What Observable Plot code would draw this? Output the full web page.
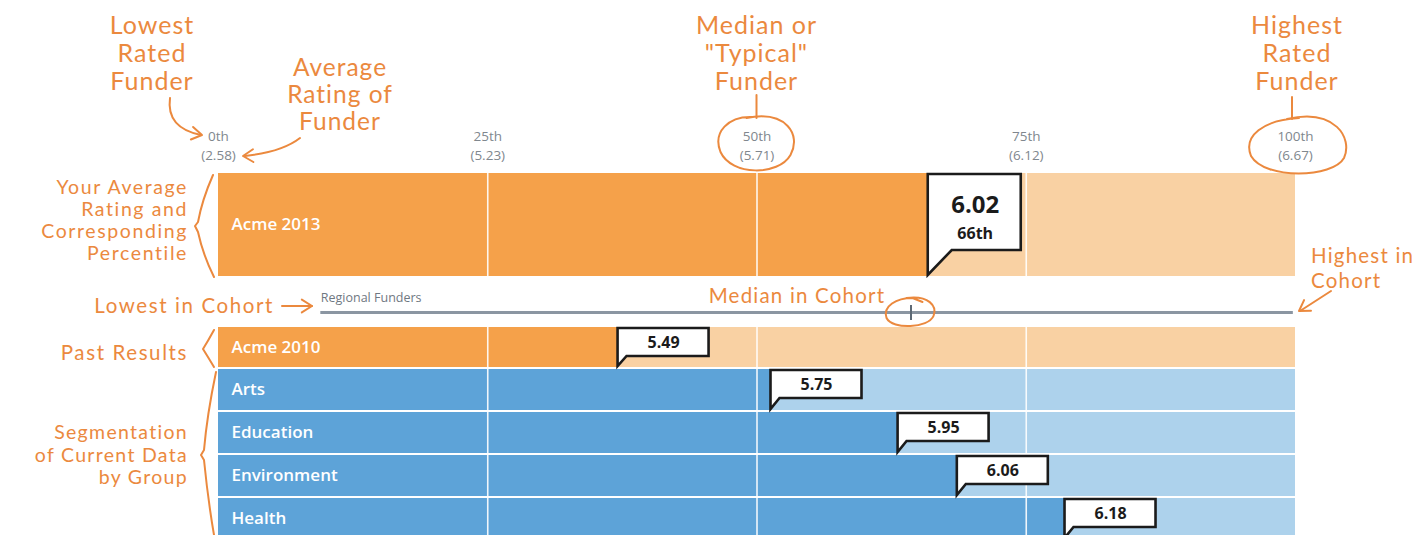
<!DOCTYPE html>
<html>
<head>
<meta charset="utf-8">
<script src="https://cdn.jsdelivr.net/npm/d3@7"></script>
<script src="https://cdn.jsdelivr.net/npm/@observablehq/plot@0.6"></script>
<style>
  html, body { margin: 0; padding: 0; background: #ffffff; }
  #chart svg { display: block; }
</style>
</head>
<body>
<div id="chart"></div>
<script>
// ---------------- DATA ----------------
const categories  = ["Acme 2013", "Acme 2010", "Arts", "Education", "Environment", "Health"];
const ratings     = [6.02, 5.49, 5.75, 5.95, 6.06, 6.18];
const percentiles = [65.9, 37.1, 51.3, 63.1, 68.6, 78.6];
const groups      = ["current", "past", "segment", "segment", "segment", "segment"];

const tickPercentiles = [0, 25, 50, 75, 100];
const tickLabels      = ["0th", "25th", "50th", "75th", "100th"];
const tickValues      = ["(2.58)", "(5.23)", "(5.71)", "(6.12)", "(6.67)"];

const cohortName   = "Regional Funders";
const cohortRange  = [9.5, 99.8];   // percentile of lowest / highest in cohort
const cohortMedian = 64.3;          // percentile of cohort median

// ---------------- LAYOUT / STYLE ----------------
const W = 1412, H = 535;
const plotLeft = 218, plotRight = 1295;
const rowSpans = {
  "Acme 2013":   [173, 276],
  "Acme 2010":   [327, 367],
  "Arts":        [369, 410],
  "Education":   [412, 453],
  "Environment": [455, 496],
  "Health":      [498, 539]
};
const tickLabelY = [136, 155];
const cohortY = 312, cohortLabelY = 297;
const palette = {
  current: ["#F5A14A", "#F9D1A3"],
  past:    ["#F5A14A", "#F9D1A3"],
  segment: ["#5DA3D8", "#ADD2EC"]
};
const ink = "#EB893E";
const hand = "'Lato', 'Open Sans', sans-serif";

const rows = categories.map((name, i) => ({
  name, rating: ratings[i], pct: percentiles[i], group: groups[i],
  y1: rowSpans[name][0], y2: rowSpans[name][1]
}));
const gridData = rows.flatMap(r => [25, 50, 75].map(t => ({t, y1: r.y1, y2: r.y2})));

// ---------------- CUSTOM MARKS ----------------
function calloutMark(index, scales) {
  const X = scales.x;
  const g = d3.create("svg:g")
    .attr("fill", "white").attr("stroke", "#1b1b1b")
    .attr("stroke-width", 2.6).attr("stroke-linejoin", "miter");
  rows.forEach((r, i) => {
    const x0 = X(r.pct);
    let top, bottom, right, join, tip;
    if (i === 0) {
      top = r.y1 + 1; bottom = r.y1 + 77; right = x0 + 93; join = x0 + 24; tip = r.y2 - 1;
    } else {
      top = r.y1 + 1; bottom = r.y1 + 29; right = x0 + 91; join = x0 + 9; tip = r.y2 - 1;
    }
    g.append("path").attr("d",
      `M${x0},${tip} L${x0},${top} L${right},${top} L${right},${bottom} L${join},${bottom} Z`);
  });
  return g.node();
}

function arrowHead(tx, ty, angleDeg, len = 12, spread = 32) {
  const a = angleDeg * Math.PI / 180;
  const s = spread * Math.PI / 180;
  const p1 = [tx - len * Math.cos(a - s), ty - len * Math.sin(a - s)];
  const p2 = [tx - len * Math.cos(a + s), ty - len * Math.sin(a + s)];
  return `M${p1[0]},${p1[1]} L${tx},${ty} L${p2[0]},${p2[1]}`;
}

function annotationMark(index, scales) {
  const X = scales.x;
  const g = d3.create("svg:g").attr("fill", "none").attr("stroke", ink)
    .attr("stroke-width", 2).attr("stroke-linecap", "round").attr("stroke-linejoin", "round");
  const texts = [
    {lines: ["Lowest", "Rated", "Funder"], x: 152, y: 24, lh: 28, anchor: "middle", size: 25, ls: 1.0},
    {lines: ["Average", "Rating of", "Funder"], x: 340, y: 66, lh: 27, anchor: "middle", size: 24.5, ls: 1.0},
    {lines: ["Median or", "\"Typical\"", "Funder"], x: X(50), y: 24, lh: 28, anchor: "middle", size: 25, ls: 1.0},
    {lines: ["Highest", "Rated", "Funder"], x: X(100) + 2, y: 24, lh: 28, anchor: "middle", size: 25, ls: 1.0},
    {lines: ["Your Average", "Rating and", "Corresponding", "Percentile"], x: 188, y: 186, lh: 22, anchor: "end", size: 19.5, ls: 1.6},
    {lines: ["Lowest in Cohort"], x: 274, y: 305, lh: 22, anchor: "end", size: 20.5, ls: 1.6},
    {lines: ["Median in Cohort"], x: 797, y: 295, lh: 22, anchor: "middle", size: 20.5, ls: 1.2},
    {lines: ["Highest in", "Cohort"], x: 1311, y: 255, lh: 25, anchor: "start", size: 20.5, ls: 1.2},
    {lines: ["Past Results"], x: 188, y: 352, lh: 22, anchor: "end", size: 20.5, ls: 1.6},
    {lines: ["Segmentation", "of Current Data", "by Group"], x: 188, y: 431, lh: 22.5, anchor: "end", size: 19.5, ls: 1.3}
  ];
  const tg = g.append("g").attr("stroke", "none").attr("fill", ink).attr("font-family", hand);
  texts.forEach(t => {
    const el = tg.append("text").attr("text-anchor", t.anchor)
      .attr("font-size", t.size).attr("letter-spacing", t.ls).attr("dominant-baseline", "central");
    t.lines.forEach((ln, k) => el.append("tspan").attr("x", t.x).attr("y", t.y + k * t.lh).text(ln));
  });
  const paths = [
    // Lowest rated funder arrow
    "M170,98 Q166,128 201,135", arrowHead(202, 135, 10),
    // Average rating arrow
    "M300,138 Q282,152 245,156", arrowHead(243, 156, 178),
    // Median line + circle
    `M${X(50)},95 L${X(50)},118`,
    `M${X(50) - 10},118 C${X(50) + 30},110 ${X(50) + 45},135 ${X(50) + 34},155 C${X(50) + 22},176 ${X(50) - 25},176 ${X(50) - 36},152 C${X(50) - 44},132 ${X(50) - 28},116 ${X(50) - 4},117`,
    // Highest line + circle
    `M${X(100) - 3},97 L${X(100) - 3},119`,
    `M${X(100) - 8},119 C${X(100) + 40},108 ${X(100) + 58},138 ${X(100) + 49},158 C${X(100) + 38},178 ${X(100) - 30},180 ${X(100) - 44},156 C${X(100) - 52},136 ${X(100) - 32},120 ${X(100) + 4},118`,
    // Lowest in cohort arrow
    "M282,306 L312,306", arrowHead(312, 306, 0),
    // Median in cohort circle
    `M${X(cohortMedian) - 4},298 C${X(cohortMedian) + 18},295 ${X(cohortMedian) + 27},306 ${X(cohortMedian) + 23},316 C${X(cohortMedian) + 18},328 ${X(cohortMedian) - 18},330 ${X(cohortMedian) - 24},318 C${X(cohortMedian) - 28},306 ${X(cohortMedian) - 14},298 ${X(cohortMedian) + 2},298 L${X(cohortMedian) + 12},302`,
    // Highest in cohort arrow
    "M1331,291 L1300,311", arrowHead(1299, 311, 147),
    // Braces
    "M213,175 Q202,200 198,222 L195,226 L198,232 Q203,255 214,277",
    "M214,330 Q208,341 203,349 Q208,357 214,367",
    "M216,372 Q207,415 204,450 L201,455 L204,460 Q208,500 214,535"
  ];
  paths.forEach(d => g.append("path").attr("d", d));
  return g.node();
}

// ---------------- PLOT ----------------
const chart = Plot.plot({
  width: W, height: H,
  marginLeft: plotLeft, marginRight: W - plotRight, marginTop: 0, marginBottom: 0,
  x: {domain: [0, 100], axis: null},
  y: {domain: [0, H], range: [0, H], axis: null},
  color: {type: "identity"},
  style: {fontFamily: "'Open Sans', sans-serif", background: "white", overflow: "visible"},
  marks: [
    // light (full-range) bars
    Plot.rect(rows, {x1: 0, x2: 100, y1: "y1", y2: "y2", fill: d => palette[d.group][1]}),
    // value bars
    Plot.rect(rows, {x1: 0, x2: "pct", y1: "y1", y2: "y2", fill: d => palette[d.group][0]}),
    // quartile grid lines
    Plot.ruleX(gridData, {x: "t", y1: "y1", y2: "y2", stroke: "white", strokeWidth: 1.6, strokeOpacity: 0.9}),
    // top tick labels
    Plot.text(tickPercentiles, {x: d => d, y: tickLabelY[0], text: (d, i) => tickLabels[i], fill: "#80878e", fontSize: 13.5}),
    Plot.text(tickPercentiles, {x: d => d, y: tickLabelY[1], text: (d, i) => tickValues[i], fill: "#80878e", fontSize: 13.5}),
    // row labels
    Plot.text(rows, {x: 0, y: d => (d.y1 + d.y2) / 2, text: "name", dx: 13, textAnchor: "start", fill: "white", fontSize: 17, fontWeight: 600}),
    // cohort range
    Plot.ruleY([cohortName], {x1: cohortRange[0], x2: cohortRange[1], y: cohortY, stroke: "#8B96A2", strokeWidth: 3}),
    Plot.ruleX([cohortMedian], {x: d => d, y1: cohortY - 7, y2: cohortY + 8, stroke: "#5d6975", strokeWidth: 2}),
    Plot.text([cohortName], {x: cohortRange[0], y: cohortLabelY, text: d => d, textAnchor: "start", fill: "#6f7882", fontSize: 12.5}),
    // callout boxes
    calloutMark,
    // callout values
    Plot.text(rows.slice(0, 1), {x: "pct", y: d => d.y1 + 32, dx: 47, text: d => d.rating.toFixed(2), fontSize: 24, fontWeight: "bold", fill: "#1b1b1b"}),
    Plot.text(rows.slice(0, 1), {x: "pct", y: d => d.y1 + 60, dx: 47, text: d => Math.round(d.pct) + "th", fontSize: 16, fontWeight: "bold", fill: "#1b1b1b"}),
    Plot.text(rows.slice(1), {x: "pct", y: d => d.y1 + 15, dx: 45.5, text: d => d.rating.toFixed(2), fontSize: 16, fontWeight: "bold", fill: "#1b1b1b"}),
    // hand-drawn style annotations
    annotationMark
  ]
});
document.getElementById("chart").appendChild(chart);
</script>
</body>
</html>
